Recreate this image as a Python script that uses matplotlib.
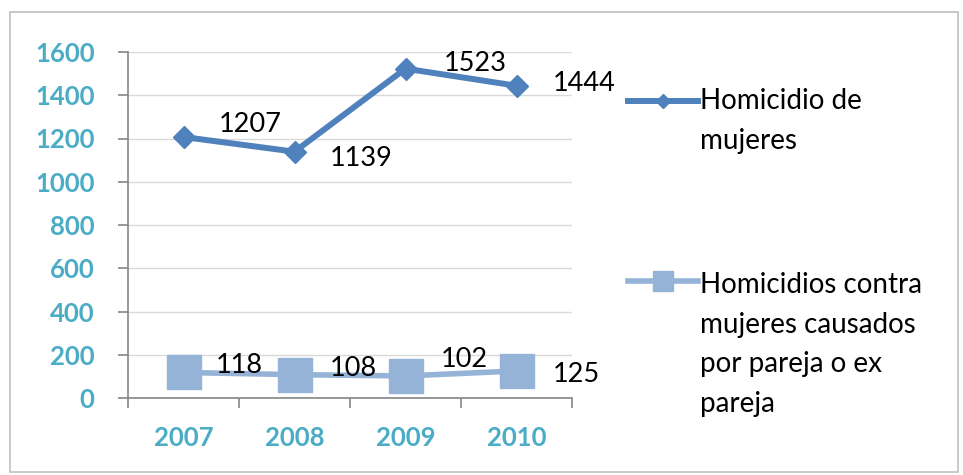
import matplotlib.pyplot as plt
from matplotlib.lines import Line2D
from matplotlib.patches import Rectangle

years = ['2007', '2008', '2009', '2010']
homicidio_mujeres = [1207, 1139, 1523, 1444]
pareja_ex_pareja = [118, 108, 102, 125]

name_1 = 'Homicidio de\nmujeres'
name_2 = 'Homicidios contra\nmujeres causados\npor pareja o ex\npareja'

dark_blue = '#4F81BD'
light_blue = '#95B3D7'
tick_blue = '#4BACC6'

plt.rcParams['font.family'] = ['Lato', 'DejaVu Sans']

fig = plt.figure(figsize=(9.63, 4.75), dpi=100)
fig.patches.append(Rectangle((10 / 963, 3 / 475), 948 / 963, 460 / 475,
                             transform=fig.transFigure, fill=False,
                             edgecolor='#BFBFBF', linewidth=1.2))

ax = fig.add_axes([128 / 963, 1 - 398 / 475, 444 / 963, 346 / 475])
x = list(range(len(years)))

ax.plot(x, homicidio_mujeres, color=dark_blue, linewidth=4.3, marker='D',
        markersize=11, markerfacecolor=dark_blue, markeredgecolor=dark_blue,
        zorder=3)
ax.plot(x, pareja_ex_pareja, color=light_blue, linewidth=4, marker='s',
        markersize=25, markerfacecolor=light_blue, markeredgecolor=light_blue,
        zorder=3, clip_on=False)

# label offsets in pixels (dx, dy)
off_1 = [(35, 12), (35, -7), (38, 5), (36, 2)]
off_2 = [(32, 7), (35, 6), (35, 16), (36, -4)]
for i, v in enumerate(homicidio_mujeres):
    ax.annotate(str(v), (x[i], v), xytext=off_1[i], textcoords='offset pixels',
                ha='left', va='center', fontsize=19.5, color='black',
                annotation_clip=False, zorder=4)
for i, v in enumerate(pareja_ex_pareja):
    ax.annotate(str(v), (x[i], v), xytext=off_2[i], textcoords='offset pixels',
                ha='left', va='center', fontsize=19.5, color='black',
                annotation_clip=False, zorder=4)

ax.set_xlim(-0.5, 3.5)
ax.set_ylim(0, 1600)
ax.set_yticks(range(0, 1601, 200))
ax.set_xticks(x)
ax.set_xticklabels(years)
ax.set_xticks([-0.5, 0.5, 1.5, 2.5, 3.5], minor=True)
ax.tick_params(axis='x', which='major', length=0, pad=20)
ax.tick_params(axis='x', which='minor', length=7, color='#868686', width=1.2)
ax.tick_params(axis='y', length=7, color='#868686', width=1.2, pad=17)
for lab in ax.get_xticklabels() + ax.get_yticklabels():
    lab.set_fontsize(18.5)
    lab.set_fontweight('bold')
    lab.set_color(tick_blue)

ax.grid(axis='y', color='#D9D9D9', linewidth=1)
ax.set_axisbelow(True)
for s in ['top', 'right']:
    ax.spines[s].set_visible(False)
for s in ['left', 'bottom']:
    ax.spines[s].set_color('#868686')
    ax.spines[s].set_linewidth(1.2)

# legend drawn by hand
def fx(px):
    return px / 963

def fy(py):
    return 1 - py / 475

fig.add_artist(Line2D([fx(628), fx(698)], [fy(101), fy(101)], color=dark_blue,
                      linewidth=4.3, transform=fig.transFigure))
fig.add_artist(Line2D([fx(663)], [fy(101)], marker='D', markersize=7,
                      color=dark_blue, transform=fig.transFigure))
fig.add_artist(Line2D([fx(628), fx(698)], [fy(281), fy(281)], color=light_blue,
                      linewidth=4, transform=fig.transFigure))
fig.add_artist(Line2D([fx(663)], [fy(281)], marker='s', markersize=15,
                      color=light_blue, transform=fig.transFigure))
fig.text(fx(700), fy(88), name_1, ha='left', va='top', fontsize=20,
         linespacing=1.65)
fig.text(fx(700), fy(272), name_2, ha='left', va='top', fontsize=20,
         linespacing=1.65)

fig.savefig('out.png', dpi=100)
